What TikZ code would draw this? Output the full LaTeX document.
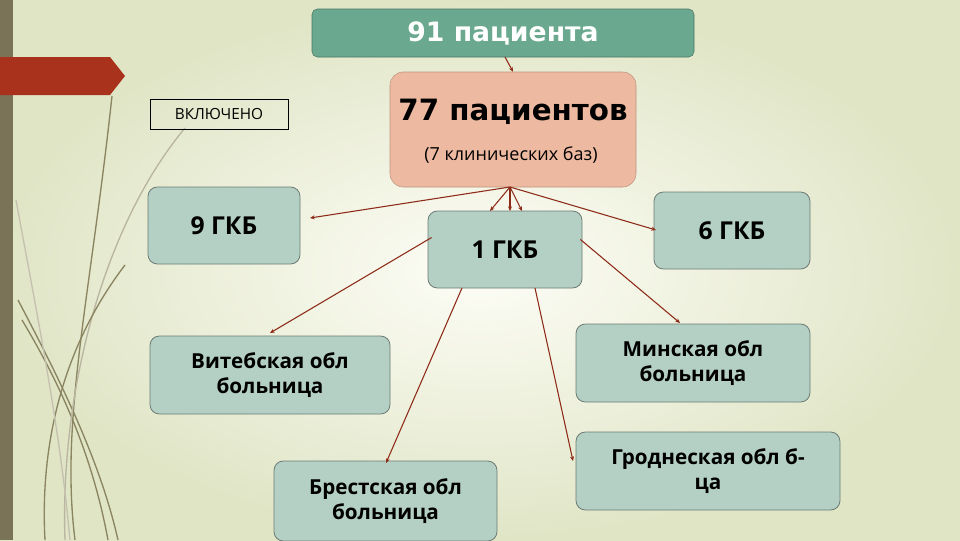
\documentclass[tikz,border=0pt]{standalone}
\usepackage{fontspec}
\setmainfont{Open Sans}
\newfontfamily\dv{DejaVu Sans}
\usetikzlibrary{arrows.meta}
\definecolor{bgA}{HTML}{FDFDF6}
\definecolor{bgB}{HTML}{E0E5C6}
\definecolor{teal1}{HTML}{6AA98F}
\definecolor{salm}{HTML}{EDB9A0}
\definecolor{sage}{HTML}{B4CFC3}
\definecolor{arr}{HTML}{8E2A18}
\definecolor{bar}{HTML}{7A7358}
\definecolor{redp}{HTML}{A8321B}
\definecolor{olive}{HTML}{8A8460}
\tikzset{
 box/.style={draw=sage!60!black, line width=0.6pt, fill=sage, rounded corners=7pt, align=center, font=\bfseries\fontsize{18.5}{22}\selectfont},
 twol/.style={font=\bfseries\fontsize{15.5}{19}\selectfont},
 con/.style={draw=arr, line width=0.8pt, -{Stealth[length=3.5pt,width=3pt]}},
 deco/.style={draw=olive, line width=1pt}
}
\begin{document}
\begin{tikzpicture}[x=0.75pt,y=-0.75pt]
\useasboundingbox (0,0) rectangle (960,540);
\shade[inner color=bgA, outer color=bgB] (0,0) rectangle (960,540);
\fill[bar] (0,0) rectangle (13,540);
\fill[redp] (0,57) -- (110,57) -- (125,76) -- (110,95) -- (0,95) -- cycle;
% decorative curves
\draw[deco] (112,96) .. controls (90,300) and (60,420) .. (75,540);
\draw[deco] (18,300) .. controls (60,380) and (100,460) .. (118,540);
\draw[deco] (22,320) .. controls (70,400) and (95,470) .. (108,540);
\draw[deco,draw=olive!60] (185,128) .. controls (100,230) and (60,400) .. (65,540);
\draw[deco] (125,265) .. controls (60,350) and (40,450) .. (45,540);
\draw[deco,draw=olive!50] (16,200) .. controls (40,330) and (60,430) .. (70,540);
% nodes
\node[draw=teal1!70!black, fill=teal1, rounded corners=4pt, minimum width=382*0.75pt, minimum height=48*0.75pt, text=white, font=\dv\bfseries\fontsize{20}{22}\selectfont] (top) at (503,33) {91 пациента};
\node[draw=salm!80!black, fill=salm, rounded corners=10pt, minimum width=246*0.75pt, minimum height=115*0.75pt] (mid) at (513,129.5) {};
\node[font=\dv\bfseries\fontsize{22}{24}\selectfont] (midt) at (513,112) {77 пациентов};
\node[font=\fontsize{13.5}{15}\selectfont] (mids) at (511,155) {(7 клинических баз)};
\node[draw=black, line width=0.6pt, minimum width=138*0.75pt, minimum height=30*0.75pt, font=\fontsize{11.5}{13}\selectfont] (inc) at (219,114) {ВКЛЮЧЕНО};
\node[box, minimum width=152*0.75pt, minimum height=77*0.75pt] (g9) at (224,225.5) {9 ГКБ};
\node[box, minimum width=154*0.75pt, minimum height=77*0.75pt] (g1) at (505,249.5) {1 ГКБ};
\node[box, minimum width=156*0.75pt, minimum height=77*0.75pt] (g6) at (732,230.5) {6 ГКБ};
\node[box, twol, minimum width=240*0.75pt, minimum height=78*0.75pt] (vit) at (270,375) {Витебская обл\\больница};
\node[box, twol, minimum width=234*0.75pt, minimum height=78*0.75pt] (min) at (693,363) {Минская обл\\больница};
\node[box, twol, minimum width=223*0.75pt, minimum height=80*0.75pt] (bre) at (385.5,501) {Брестская обл\\больница};
\node[box, twol, minimum width=264*0.75pt, minimum height=78*0.75pt] (gro) at (708,471) {Гроднеская обл б-\\ца};
% connectors
\coordinate (mb) at (510,187);
\draw[con] (505,57) -- (mid.north);
\draw[con] (mb) -- (310,218);
\draw[con] (mb) -- (656,230);
\draw[con] (mb) -- (490,211);
\draw[con] (mb) -- (510,211);
\draw[con] (mb) -- (522,211);
\draw[con] (g1.west) ++(4,-12) -- (270,333);
\draw[con] (462,288) -- (386,463);
\draw[con] (535,288) -- (573,461);
\draw[con] (g1.east) ++(-2,-10) -- (680,323);
\end{tikzpicture}
\end{document}
